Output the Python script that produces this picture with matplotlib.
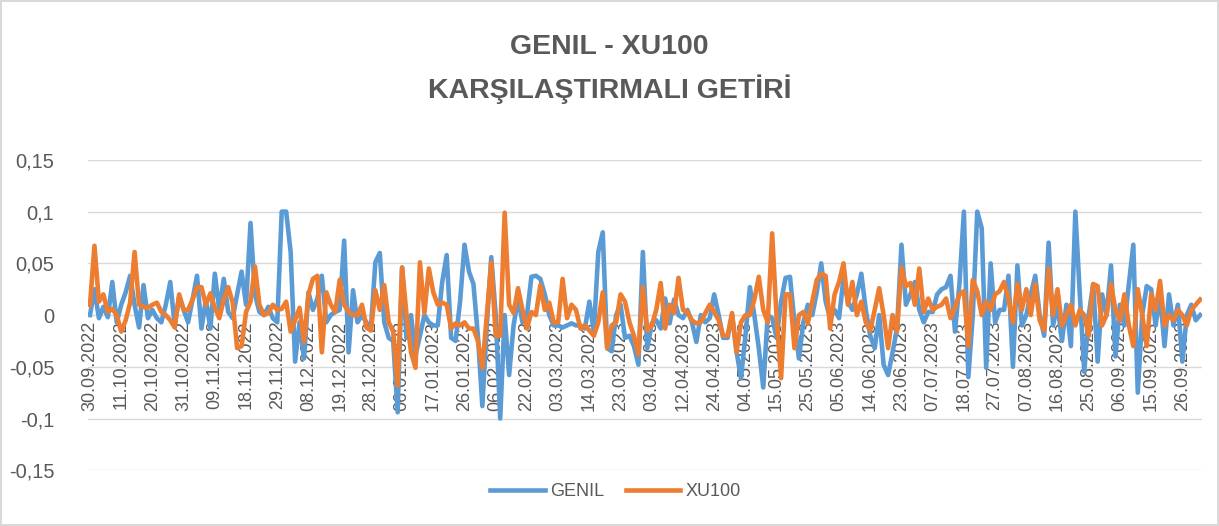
import matplotlib
matplotlib.use('Agg')
import matplotlib.pyplot as plt
from matplotlib.lines import Line2D

# daily returns, one value per trading day
genil = [
    0.0, 0.025, -0.003, 0.008, -0.002, 0.032, -0.007, 0.01, 0.022, 0.038,
    0.01, -0.012, 0.029, -0.003, 0.005, -0.003, -0.007, 0.01, 0.032, -0.01,
    0.018, 0.005, -0.007, 0.015, 0.038, -0.013, 0.015, -0.013, 0.04, 0.005,
    0.035, 0.003, -0.003, 0.02, 0.042, 0.01, 0.089, 0.02, 0.003, 0.0,
    0.008, -0.003, -0.007, 0.1, 0.1, 0.061, -0.045, -0.007, -0.042, 0.022,
    0.005, 0.016, 0.038, -0.007, 0.0, 0.003, 0.005, 0.072, -0.036, 0.024,
    -0.007, 0.0, -0.007, -0.013, 0.051, 0.06, -0.007, -0.022, -0.025, -0.094,
    0.046, -0.022, 0.0, -0.039, -0.02, 0.0, -0.007, -0.01, -0.01, 0.032,
    0.058, -0.022, -0.025, 0.013, 0.068, 0.042, 0.03, -0.02, -0.088, -0.01,
    0.056, 0.0, -0.1, 0.0, -0.058, -0.01, 0.016, -0.007, 0.0, 0.037,
    0.038, 0.035, 0.02, 0.0, -0.01, -0.01, -0.012, -0.01, -0.008, -0.01,
    -0.01, -0.013, 0.013, -0.016, 0.061, 0.08, -0.032, -0.035, 0.0, 0.01,
    -0.022, -0.02, -0.03, -0.048, 0.061, -0.032, -0.008, -0.005, -0.013, 0.016,
    -0.008, 0.015, 0.0, -0.003, 0.005, -0.007, -0.026, 0.0, -0.007, -0.003,
    0.02, 0.0, -0.022, -0.022, 0.0, -0.035, -0.061, -0.02, 0.027, 0.0,
    -0.032, -0.07, 0.0, -0.003, -0.022, 0.013, 0.036, 0.037, -0.007, -0.042,
    -0.007, 0.01, 0.0, 0.022, 0.05, 0.013, -0.003, 0.005, -0.003, 0.036,
    0.013, 0.005, 0.02, 0.04, 0.005, -0.02, -0.032, 0.0, -0.048, -0.058,
    -0.036, -0.013, 0.068, 0.01, 0.02, 0.032, 0.005, -0.007, 0.003, 0.003,
    0.02, 0.025, 0.027, 0.038, -0.016, 0.03, 0.1, -0.06, 0.0, 0.1,
    0.084, -0.051, 0.05, -0.007, 0.005, 0.005, 0.038, -0.05, 0.048, -0.01,
    0.0, 0.02, 0.038, 0.0, -0.02, 0.07, -0.01, 0.01, -0.025, 0.01,
    -0.03, 0.1, 0.02, -0.055, 0.0, 0.03, -0.045, 0.02, 0.0, 0.048,
    -0.04, 0.01, -0.01, 0.03, 0.068, -0.075, 0.0, 0.028, 0.025, -0.01,
    0.02, -0.03, 0.02, -0.01, 0.01, -0.045, 0.0, 0.01, -0.005, 0.0,
]
xu100 = [
    0.01, 0.067, 0.013, 0.02, 0.003, 0.006, 0.0, -0.016, -0.005, 0.012,
    0.061, 0.01, 0.008, 0.007, 0.01, 0.012, 0.003, 0.0, -0.005, -0.012,
    0.02, 0.005, 0.005, 0.015, 0.027, 0.027, 0.01, 0.021, 0.007, -0.003,
    0.015, 0.027, 0.012, -0.032, -0.03, 0.003, 0.013, 0.047, 0.01, 0.0,
    0.002, 0.01, 0.005, 0.006, 0.013, -0.016, -0.005, 0.007, -0.026, 0.02,
    0.035, 0.038, -0.036, 0.022, 0.01, 0.003, 0.034, 0.01, 0.003, 0.0,
    0.0, 0.01, -0.012, -0.015, 0.024, 0.005, 0.029, -0.007, -0.016, -0.068,
    0.046, 0.0, -0.036, -0.051, 0.051, 0.002, 0.045, 0.022, 0.01, 0.012,
    0.01, -0.013, -0.008, -0.01, -0.007, -0.013, -0.013, -0.025, -0.051, 0.0,
    0.051, -0.02, -0.02, 0.099, 0.01, 0.002, 0.026, 0.005, -0.013, 0.003,
    0.0, 0.029, 0.005, 0.012, -0.007, -0.007, 0.035, -0.003, 0.01, 0.005,
    -0.013, -0.01, -0.015, -0.02, -0.007, 0.022, -0.032, -0.01, -0.007, 0.02,
    0.013, -0.007, -0.02, -0.038, 0.027, -0.015, -0.01, 0.005, 0.031, -0.013,
    0.01, 0.002, 0.036, 0.005, 0.003, -0.005, -0.008, -0.007, 0.002, 0.01,
    0.003, -0.005, -0.02, -0.02, 0.002, -0.036, -0.007, 0.0, 0.0, 0.015,
    0.037, 0.005, -0.007, 0.079, -0.003, -0.061, 0.02, 0.02, -0.032, 0.0,
    0.003, -0.008, 0.013, 0.034, 0.04, 0.038, -0.013, 0.02, 0.032, 0.05,
    0.01, 0.032, 0.0, 0.013, -0.007, -0.015, 0.005, 0.026, 0.0, -0.032,
    0.0, -0.016, 0.046, 0.028, 0.031, 0.01, 0.045, 0.003, 0.016, 0.005,
    0.008, 0.01, 0.016, -0.003, 0.007, 0.02, 0.023, -0.03, 0.034, 0.023,
    0.0, 0.013, 0.005, 0.02, 0.023, 0.032, 0.016, -0.007, 0.03, 0.005,
    0.025, 0.0, 0.03, -0.005, -0.015, 0.045, 0.0, 0.025, -0.01, 0.0,
    0.01, -0.01, 0.005, 0.0, -0.02, 0.03, 0.028, -0.01, 0.0, 0.03,
    0.005, -0.005, 0.02, -0.01, -0.03, 0.025, 0.0, -0.03, 0.02, 0.005,
    0.033, -0.01, 0.0, -0.005, 0.005, 0.0, -0.01, 0.005, 0.01, 0.015,
]
date_labels = [
    '30.09.2022', '11.10.2022', '20.10.2022', '31.10.2022', '09.11.2022',
    '18.11.2022', '29.11.2022', '08.12.2022', '19.12.2022', '28.12.2022',
    '06.01.2023', '17.01.2023', '26.01.2023', '06.02.2023', '22.02.2023',
    '03.03.2023', '14.03.2023', '23.03.2023', '03.04.2023', '12.04.2023',
    '24.04.2023', '04.05.2023', '15.05.2023', '25.05.2023', '05.06.2023',
    '14.06.2023', '23.06.2023', '07.07.2023', '18.07.2023', '27.07.2023',
    '07.08.2023', '16.08.2023', '25.08.2023', '06.09.2023', '15.09.2023',
    '26.09.2023',
]
label_step = 7
y_ticks = [0.15, 0.1, 0.05, 0, -0.05, -0.1, -0.15]
y_labels = ['0,15', '0,1', '0,05', '0', '-0,05', '-0,1', '-0,15']

blue = '#5B9BD5'
orange = '#ED7D31'
txt = '#595959'
font = 'Liberation Sans'

fig = plt.figure(figsize=(12.19, 5.26), dpi=100)
fig.patch.set_edgecolor('#d9d9d9')
fig.patch.set_linewidth(1.5)
ax = fig.add_axes([0.072, 0.106, 0.9144, 0.59])

x = list(range(len(genil)))
ax.plot(x, genil, color=blue, lw=3.3, solid_joinstyle='round', zorder=3)
ax.plot(x, xu100, color=orange, lw=3.3, solid_joinstyle='round', zorder=4)

# horizontal axis crosses at zero, labels hang below it
ax.spines['bottom'].set_position(('data', 0))
ax.spines['bottom'].set_color('#d9d9d9')
for s in ['top', 'left', 'right']:
    ax.spines[s].set_visible(False)

ax.set_ylim(-0.15, 0.15)
ax.set_xlim(-0.5, len(genil) - 0.5)
ax.set_yticks(y_ticks)
ax.set_yticklabels(y_labels, fontsize=14.5, color=txt, family=font)
ax.yaxis.grid(True, color='#d9d9d9', lw=1)
ax.set_axisbelow(True)
ax.tick_params(axis='y', length=0, pad=24)

ax.set_xticks([i * label_step for i in range(len(date_labels))])
ax.set_xticklabels(date_labels, rotation=90, fontsize=13, color=txt, family=font)
ax.tick_params(axis='x', length=0, pad=4)

fig.text(0.5, 0.91, 'GENIL - XU100', ha='center', va='center',
         fontsize=20.5, fontweight='bold', color=txt, family=font)
fig.text(0.5, 0.83, 'KARŞILAŞTIRMALI GETİRİ', ha='center', va='center',
         fontsize=20.5, fontweight='bold', color=txt, family=font)

handles = [Line2D([], [], color=blue, lw=3.3), Line2D([], [], color=orange, lw=3.3)]
fig.legend(handles, ['GENIL', 'XU100'], loc='center', bbox_to_anchor=(0.505, 0.065),
           ncol=2, frameon=False, prop={'family': font, 'size': 13},
           handlelength=3.0, handletextpad=0.3, columnspacing=1.2, labelcolor=txt)

fig.savefig('out.png', dpi=100)
